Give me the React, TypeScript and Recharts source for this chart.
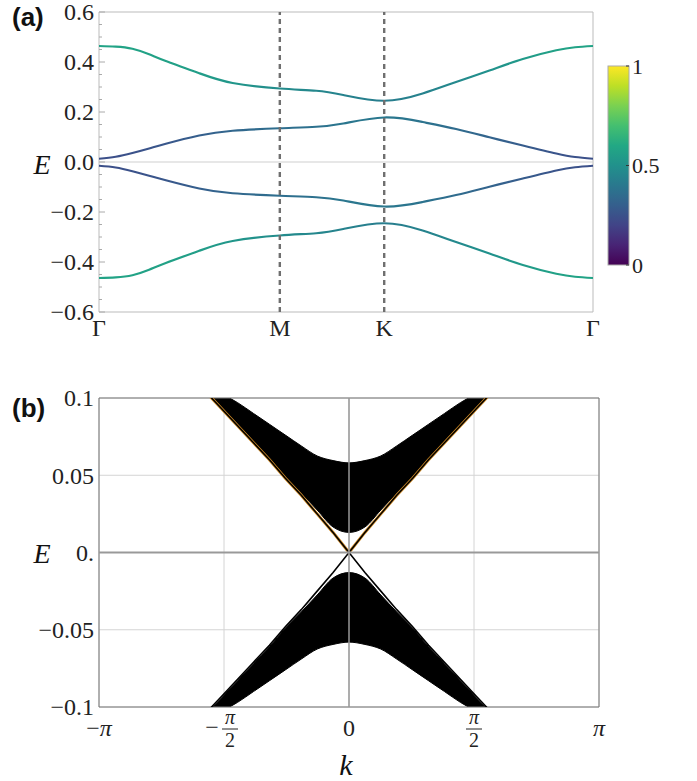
import React from 'react';
import {
  LineChart,
  Line,
  XAxis,
  YAxis,
  ReferenceLine,
  ReferenceArea,
  ComposedChart,
  Area,
  CartesianGrid,
} from 'recharts';

// ---------- Panel (a): bulk bands along Γ–M–K–Γ ----------
const kPathA = [0, 0.08, 0.16, 0.24, 0.32, 0.48, 0.64, 0.866, 1.04, 1.17, 1.366, 1.55, 1.71, 1.87, 2.03, 2.19, 2.28, 2.366];
const kTicksA = [0, 0.866, 1.366, 2.366];
const kTickLabelsA = ['Γ', 'M', 'K', 'Γ'];

const band4 = [0.464, 0.4615, 0.453, 0.431, 0.404, 0.355, 0.316, 0.294, 0.285, 0.268, 0.245, 0.274, 0.32, 0.366, 0.412, 0.447, 0.459, 0.464];
const band3 = [0.013, 0.021, 0.036, 0.054, 0.073, 0.106, 0.125, 0.135, 0.141, 0.154, 0.178, 0.16, 0.132, 0.099, 0.066, 0.034, 0.02, 0.013];
const band2 = [-0.015, -0.022, -0.037, -0.055, -0.073, -0.106, -0.125, -0.135, -0.141, -0.154, -0.178, -0.16, -0.132, -0.099, -0.066, -0.034, -0.021, -0.015];
const band1 = [-0.464, -0.4615, -0.453, -0.431, -0.404, -0.355, -0.316, -0.294, -0.285, -0.268, -0.245, -0.274, -0.32, -0.366, -0.412, -0.447, -0.459, -0.464];

// colour weight (0..1) of each band along the path
const color4 = [0.58, 0.58, 0.58, 0.57, 0.57, 0.55, 0.52, 0.48, 0.46, 0.44, 0.42, 0.44, 0.47, 0.5, 0.54, 0.57, 0.58, 0.58];
const color3 = [0.24, 0.245, 0.25, 0.26, 0.27, 0.3, 0.33, 0.36, 0.37, 0.39, 0.4, 0.38, 0.35, 0.32, 0.29, 0.26, 0.25, 0.24];
const color2 = [0.24, 0.245, 0.25, 0.26, 0.27, 0.3, 0.33, 0.36, 0.37, 0.39, 0.4, 0.38, 0.35, 0.32, 0.29, 0.26, 0.25, 0.24];
const color1 = [0.58, 0.58, 0.58, 0.57, 0.57, 0.55, 0.52, 0.48, 0.46, 0.44, 0.42, 0.44, 0.47, 0.5, 0.54, 0.57, 0.58, 0.58];

const yTicksA = [-0.6, -0.55, -0.5, -0.45, -0.4, -0.35, -0.3, -0.25, -0.2, -0.15, -0.1, -0.05, 0, 0.05, 0.1, 0.15, 0.2, 0.25, 0.3, 0.35, 0.4, 0.45, 0.5, 0.55, 0.6];
const yMajorA = [-0.6, -0.4, -0.2, 0, 0.2, 0.4, 0.6];
const yMajorLabelsA = ['−0.6', '−0.4', '−0.2', '0.0', '0.2', '0.4', '0.6'];

const colorbarTicks = [0, 0.5, 1];
const colorbarLabels = ['0', '0.5', '1'];

// ---------- Panel (b): ribbon spectrum ----------
const kB = [-1.8, -1.6, -1.4, -1.2, -1.0, -0.8, -0.6, -0.4, -0.2, 0, 0.2, 0.4, 0.6, 0.8, 1.0, 1.2, 1.4, 1.6, 1.8];
const upperBulkBottom = [0.105, 0.094, 0.083, 0.072, 0.061, 0.049, 0.0385, 0.0275, 0.0165, 0.013, 0.0165, 0.0275, 0.0385, 0.049, 0.061, 0.072, 0.083, 0.094, 0.105];
const upperBulkTop = [0.11, 0.103, 0.097, 0.09, 0.083, 0.076, 0.069, 0.0625, 0.0595, 0.058, 0.0595, 0.0625, 0.069, 0.076, 0.083, 0.09, 0.097, 0.103, 0.11];
const lowerBulkTop = [-0.105, -0.094, -0.083, -0.072, -0.061, -0.049, -0.0385, -0.0275, -0.0165, -0.013, -0.0165, -0.0275, -0.0385, -0.049, -0.061, -0.072, -0.083, -0.094, -0.105];
const lowerBulkBottom = [-0.11, -0.103, -0.097, -0.09, -0.083, -0.076, -0.069, -0.0625, -0.0595, -0.058, -0.0595, -0.0625, -0.069, -0.076, -0.083, -0.09, -0.097, -0.103, -0.11];
const edgeUpper = [0.104, 0.093, 0.082, 0.071, 0.06, 0.048, 0.037, 0.025, 0.013, 0, 0.013, 0.025, 0.037, 0.048, 0.06, 0.071, 0.082, 0.093, 0.104];
const edgeLower = [-0.104, -0.093, -0.082, -0.071, -0.06, -0.048, -0.037, -0.025, -0.013, 0, -0.013, -0.025, -0.037, -0.048, -0.06, -0.071, -0.082, -0.093, -0.104];

const xTicksB = [-Math.PI, -Math.PI / 2, 0, Math.PI / 2, Math.PI];
const xTickLabelsB = [
  { sign: '−', num: 'π', den: '' },
  { sign: '−', num: 'π', den: '2' },
  { sign: '', num: '0', den: '' },
  { sign: '', num: 'π', den: '2' },
  { sign: '', num: 'π', den: '' },
];
const yTicksB = [-0.1, -0.05, 0, 0.05, 0.1];
const yTickLabelsB = ['−0.1', '−0.05', '0.', '0.05', '0.1'];

// ---------- helpers ----------
const SERIF = '"Liberation Serif", "Times New Roman", serif';
const SANS = '"Liberation Sans", Arial, sans-serif';
const VIRIDIS = ['#440154', '#482475', '#414487', '#355f8d', '#2a788e', '#21918c', '#22a884', '#44bf70', '#7ad151', '#bddf26', '#fde725'];

function hexToRgb(h: string) {
  return [parseInt(h.slice(1, 3), 16), parseInt(h.slice(3, 5), 16), parseInt(h.slice(5, 7), 16)];
}
function viridis(t: number) {
  const c = Math.max(0, Math.min(1, t)) * (VIRIDIS.length - 1);
  const i = Math.min(VIRIDIS.length - 2, Math.floor(c));
  const f = c - i;
  const a = hexToRgb(VIRIDIS[i]);
  const b = hexToRgb(VIRIDIS[i + 1]);
  const m = a.map((v, j) => Math.round(v + (b[j] - v) * f));
  return `rgb(${m[0]},${m[1]},${m[2]})`;
}

const kTotal = kPathA[kPathA.length - 1];
const rowsA = kPathA.map((k, i) => ({ k, b1: band1[i], b2: band2[i], b3: band3[i], b4: band4[i] }));
const bandGradients = [
  { id: 'gb1', colors: color1 },
  { id: 'gb2', colors: color2 },
  { id: 'gb3', colors: color3 },
  { id: 'gb4', colors: color4 },
];

const rowsB = kB.map((k, i) => ({
  k,
  upperBulk: [upperBulkBottom[i], upperBulkTop[i]],
  lowerBulk: [lowerBulkBottom[i], lowerBulkTop[i]],
  edgeUp: edgeUpper[i],
  edgeDown: edgeLower[i],
}));

const TICK_FS = 24;

function YTickA(props: any) {
  const { x, y, payload } = props;
  const v = payload.value;
  const idx = yMajorA.findIndex((m) => Math.abs(m - v) < 1e-9);
  const ax = x + 5;
  return (
    <g>
      <line x1={ax} x2={ax + (idx >= 0 ? 6 : 3)} y1={y} y2={y} stroke="#aaa" strokeWidth={1} />
      {idx >= 0 && (
        <text x={x} y={y} dy="0.35em" textAnchor="end" fontFamily={SERIF} fontSize={TICK_FS} fill="#222">
          {yMajorLabelsA[idx]}
        </text>
      )}
    </g>
  );
}

function XTickA(props: any) {
  const { x, y, payload } = props;
  const idx = kTicksA.findIndex((m) => Math.abs(m - payload.value) < 1e-9);
  return (
    <text x={x} y={y + 24} textAnchor="middle" fontFamily={SERIF} fontSize={TICK_FS} fill="#222">
      {idx >= 0 ? kTickLabelsA[idx] : ''}
    </text>
  );
}

function YTickB(props: any) {
  const { x, y, payload } = props;
  const idx = yTicksB.findIndex((m) => Math.abs(m - payload.value) < 1e-9);
  return (
    <text x={x} y={y} dy="0.35em" textAnchor="end" fontFamily={SERIF} fontSize={TICK_FS} fill="#222">
      {idx >= 0 ? yTickLabelsB[idx] : ''}
    </text>
  );
}

function XTickB(props: any) {
  const { x, y, payload } = props;
  const idx = xTicksB.findIndex((m) => Math.abs(m - payload.value) < 1e-9);
  if (idx < 0) return <g />;
  const lab = xTickLabelsB[idx];
  const isPi = lab.num === 'π';
  if (!lab.den) {
    return (
      <text x={x} y={y + 29} textAnchor="middle" fontFamily={SERIF} fontSize={TICK_FS} fill="#222">
        {lab.sign}
        <tspan fontStyle={isPi ? 'italic' : 'normal'}>{lab.num}</tspan>
      </text>
    );
  }
  const fx = lab.sign ? x + 6 : x;
  return (
    <g fontFamily={SERIF} fill="#222">
      {lab.sign && (
        <text x={x - 12} y={y + 28} textAnchor="middle" fontSize={TICK_FS}>
          {lab.sign}
        </text>
      )}
      <text x={fx} y={y + 17} textAnchor="middle" fontSize={20} fontStyle="italic">
        {lab.num}
      </text>
      <line x1={fx - 8} x2={fx + 8} y1={y + 22} y2={y + 22} stroke="#222" strokeWidth={1} />
      <text x={fx} y={y + 40} textAnchor="middle" fontSize={20}>
        {lab.den}
      </text>
    </g>
  );
}

function Colorbar() {
  const top = 16;
  const h = 199;
  const yOf = (v: number) => top + (1 - v) * h;
  return (
    <svg width={97} height={240} style={{ position: 'absolute', left: 600, top: 50 }}>
      <defs>
        <linearGradient id="cbar" x1="0" y1="1" x2="0" y2="0">
          {VIRIDIS.map((c, i) => (
            <stop key={i} offset={i / (VIRIDIS.length - 1)} stopColor={c} />
          ))}
        </linearGradient>
      </defs>
      <rect x={8} y={top} width={21} height={h} fill="url(#cbar)" stroke="#aaa" strokeWidth={1} />
      {colorbarTicks.map((v, i) => (
        <g key={i}>
          <line x1={26} x2={29} y1={yOf(v)} y2={yOf(v)} stroke="#333" strokeWidth={1} />
          <text x={32} y={yOf(v)} dy="0.35em" fontFamily={SERIF} fontSize={22} fill="#222">
            {colorbarLabels[i]}
          </text>
        </g>
      ))}
    </svg>
  );
}

export default function App() {
  return (
    <div style={{ position: 'absolute', left: 0, top: 0, width: 697, height: 781, background: '#fff', overflow: 'hidden' }}>
      {/* Panel (a) */}
      <div style={{ position: 'absolute', left: 0, top: 0 }}>
        <LineChart width={697} height={345} data={rowsA} margin={{ top: 12, right: 104, bottom: 0, left: 0 }}>
          <defs>
            {bandGradients.map((g) => (
              <linearGradient key={g.id} id={g.id} x1="0" y1="0" x2="1" y2="0">
                {kPathA.map((k, i) => (
                  <stop key={i} offset={k / kTotal} stopColor={viridis(g.colors[i])} />
                ))}
              </linearGradient>
            ))}
          </defs>
          <XAxis
            dataKey="k"
            type="number"
            domain={[0, kTotal]}
            ticks={kTicksA}
            interval={0}
            tickSize={0}
            tickMargin={0}
            axisLine={false}
            tickLine={false}
            height={33}
            tick={(p: any) => <XTickA {...p} />}
          />
          <YAxis
            type="number"
            domain={[-0.6, 0.6]}
            ticks={yTicksA}
            interval={0}
            tickSize={0}
            tickMargin={5}
            axisLine={false}
            tickLine={false}
            width={99}
            allowDataOverflow
            tick={(p: any) => <YTickA {...p} />}
          />
          <ReferenceLine y={0} stroke="#cfcfcf" strokeWidth={1} />
          <ReferenceArea x1={0} x2={kTotal} y1={-0.6} y2={0.6} fill="none" fillOpacity={0} stroke="#bbb" strokeWidth={1} />
          <Line dataKey="b4" type="natural" stroke="url(#gb4)" strokeWidth={2.2} dot={false} activeDot={false} isAnimationActive={false} />
          <Line dataKey="b3" type="natural" stroke="url(#gb3)" strokeWidth={2.2} dot={false} activeDot={false} isAnimationActive={false} />
          <Line dataKey="b2" type="natural" stroke="url(#gb2)" strokeWidth={2.2} dot={false} activeDot={false} isAnimationActive={false} />
          <Line dataKey="b1" type="natural" stroke="url(#gb1)" strokeWidth={2.2} dot={false} activeDot={false} isAnimationActive={false} />
          <ReferenceLine x={kTicksA[1]} stroke="#6f6f6f" strokeWidth={2.4} strokeDasharray="5 4" />
          <ReferenceLine x={kTicksA[2]} stroke="#6f6f6f" strokeWidth={2.4} strokeDasharray="5 4" />
        </LineChart>
      </div>
      <Colorbar />

      {/* Panel (b) */}
      <div style={{ position: 'absolute', left: 0, top: 380 }}>
        <ComposedChart width={697} height={401} data={rowsB} margin={{ top: 18, right: 98, bottom: 0, left: 0 }}>
          <CartesianGrid stroke="#d4d4d4" strokeWidth={1} />
          <XAxis
            dataKey="k"
            type="number"
            domain={[-Math.PI, Math.PI]}
            ticks={xTicksB}
            interval={0}
            tickSize={0}
            tickMargin={0}
            axisLine={false}
            tickLine={false}
            height={74}
            allowDataOverflow
            tick={(p: any) => <XTickB {...p} />}
          />
          <YAxis
            type="number"
            domain={[-0.1, 0.1]}
            ticks={yTicksB}
            interval={0}
            tickSize={0}
            tickMargin={5}
            axisLine={false}
            tickLine={false}
            width={99}
            allowDataOverflow
            tick={(p: any) => <YTickB {...p} />}
          />
          <Area dataKey="upperBulk" type="monotone" stroke="#000" strokeWidth={1} fill="#000" fillOpacity={1} dot={false} activeDot={false} isAnimationActive={false} />
          <Area dataKey="lowerBulk" type="monotone" stroke="#000" strokeWidth={1} fill="#000" fillOpacity={1} dot={false} activeDot={false} isAnimationActive={false} />
          <Line dataKey="edgeUp" type="linear" stroke="#d08a24" strokeWidth={3} dot={false} activeDot={false} isAnimationActive={false} />
          <Line dataKey="edgeUp" type="linear" stroke="#000" strokeWidth={1.5} dot={false} activeDot={false} isAnimationActive={false} />
          <Line dataKey="edgeDown" type="linear" stroke="#000" strokeWidth={1.6} dot={false} activeDot={false} isAnimationActive={false} />
          <ReferenceLine x={0} stroke="#999" strokeWidth={1.5} />
          <ReferenceLine y={0} stroke="#999" strokeWidth={2} />
          <ReferenceArea x1={-Math.PI} x2={Math.PI} y1={-0.1} y2={0.1} fill="none" fillOpacity={0} stroke="#777" strokeWidth={1} />
        </ComposedChart>
      </div>

      {/* overlay labels */}
      <svg width={697} height={781} style={{ position: 'absolute', left: 0, top: 0, pointerEvents: 'none' }}>
        <text x={12} y={26} fontFamily={SANS} fontWeight="bold" fontSize={26} fill="#111">(a)</text>
        <text x={12} y={417} fontFamily={SANS} fontWeight="bold" fontSize={26} fill="#111">(b)</text>
        <text x={42} y={174} textAnchor="middle" fontFamily={SERIF} fontStyle="italic" fontSize={28} fill="#111">E</text>
        <text x={42} y={563} textAnchor="middle" fontFamily={SERIF} fontStyle="italic" fontSize={28} fill="#111">E</text>
        <text x={346} y={775} textAnchor="middle" fontFamily={SERIF} fontStyle="italic" fontSize={30} fill="#111">k</text>
      </svg>
    </div>
  );
}
